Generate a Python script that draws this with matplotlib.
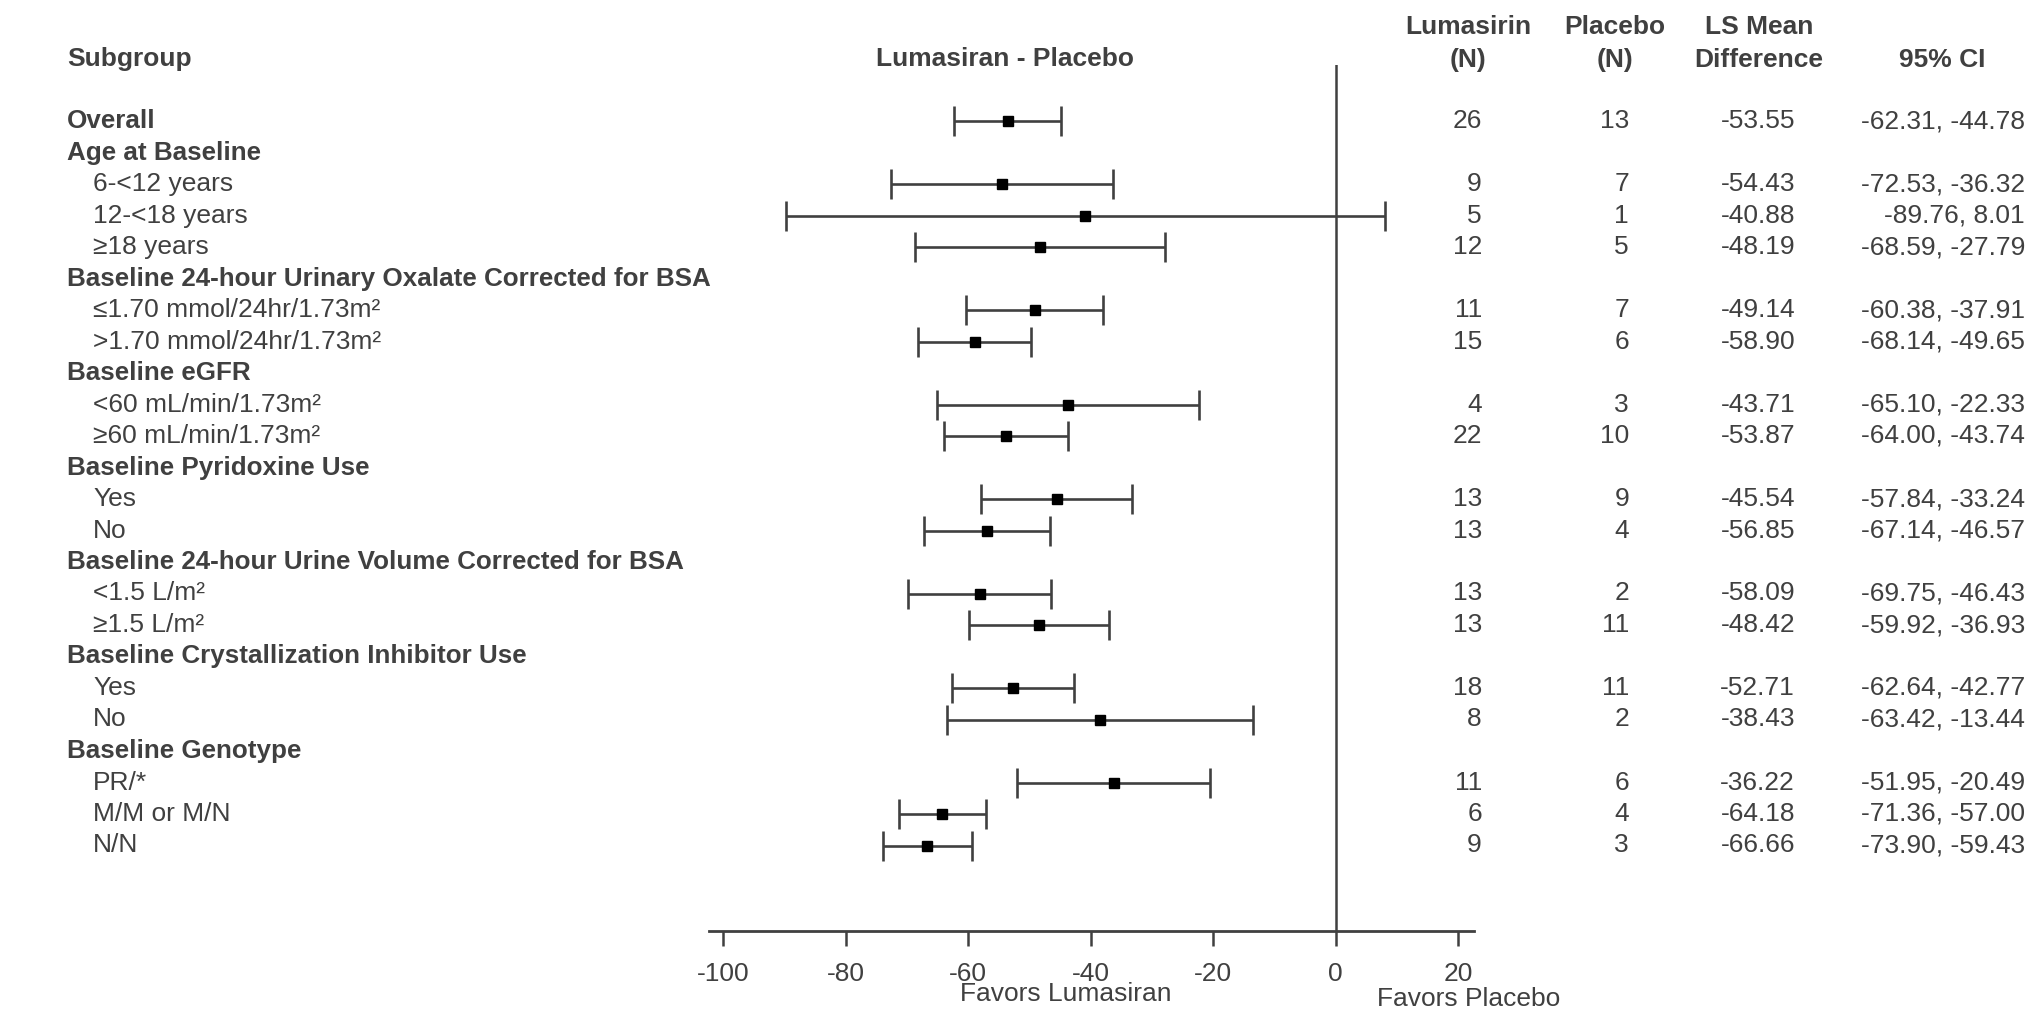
import matplotlib
matplotlib.use("Agg")
import matplotlib.pyplot as plt
import matplotlib.transforms as mtransforms

plt.rcParams['font.family'] = ['Liberation Sans', 'DejaVu Sans']

# ----------------- Data -----------------
labels = [
    "Overall", "Age at Baseline", "6-<12 years", "12-<18 years", "≥18 years",
    "Baseline 24-hour Urinary Oxalate Corrected for BSA",
    "≤1.70 mmol/24hr/1.73m²", ">1.70 mmol/24hr/1.73m²",
    "Baseline eGFR", "<60 mL/min/1.73m²", "≥60 mL/min/1.73m²",
    "Baseline Pyridoxine Use", "Yes", "No",
    "Baseline 24-hour Urine Volume Corrected for BSA", "<1.5 L/m²", "≥1.5 L/m²",
    "Baseline Crystallization Inhibitor Use", "Yes", "No",
    "Baseline Genotype", "PR/*", "M/M or M/N", "N/N",
]
is_header = [True, True, False, False, False, True, False, False, True, False, False,
             True, False, False, True, False, False, True, False, False, True, False, False, False]

# None for header rows without estimates
n_lumasiran = [26, None, 9, 5, 12, None, 11, 15, None, 4, 22, None, 13, 13, None, 13, 13, None, 18, 8, None, 11, 6, 9]
n_placebo = [13, None, 7, 1, 5, None, 7, 6, None, 3, 10, None, 9, 4, None, 2, 11, None, 11, 2, None, 6, 4, 3]
mean_diff = [-53.55, None, -54.43, -40.88, -48.19, None, -49.14, -58.90, None, -43.71, -53.87, None,
             -45.54, -56.85, None, -58.09, -48.42, None, -52.71, -38.43, None, -36.22, -64.18, -66.66]
ci_low = [-62.31, None, -72.53, -89.76, -68.59, None, -60.38, -68.14, None, -65.10, -64.00, None,
          -57.84, -67.14, None, -69.75, -59.92, None, -62.64, -63.42, None, -51.95, -71.36, -73.90]
ci_high = [-44.78, None, -36.32, 8.01, -27.79, None, -37.91, -49.65, None, -22.33, -43.74, None,
           -33.24, -46.57, None, -46.43, -36.93, None, -42.77, -13.44, None, -20.49, -57.00, -59.43]

xticks = [-100, -80, -60, -40, -20, 0, 20]

# ----------------- Layout -----------------
W, H = 2034, 1010
text_color = "#404040"
fs = 19

fig = plt.figure(figsize=(W / 100, H / 100), dpi=100)

# axes placed in pixel units
ax_left, ax_right = 709, 1474
ax_top, ax_bottom = 65, 931
ax = fig.add_axes([ax_left / W, 1 - ax_bottom / H, (ax_right - ax_left) / W, (ax_bottom - ax_top) / H])

row0, step = 121, 31.5
ax.set_xlim(-102.3, 22.6)
ax.set_ylim((ax_bottom - row0) / step, (ax_top - row0) / step)

for s in ["top", "right", "left"]:
    ax.spines[s].set_visible(False)
ax.spines["bottom"].set_color(text_color)
ax.spines["bottom"].set_linewidth(2)
ax.set_yticks([])
ax.set_xticks(xticks)
ax.set_xticklabels([str(t) for t in xticks])
ax.tick_params(axis="x", direction="out", length=11, width=1.8, colors=text_color,
               labelsize=fs, pad=11)

ax.axvline(0, color=text_color, lw=1.8)

for i in range(len(labels)):
    if mean_diff[i] is None:
        continue
    ax.errorbar(mean_diff[i], i,
                xerr=[[mean_diff[i] - ci_low[i]], [ci_high[i] - mean_diff[i]]],
                fmt="s", color="black", ms=6.5, ecolor=text_color, elinewidth=1.9,
                capsize=10.5, capthick=1.9)

# ----------------- Text columns -----------------
trans = mtransforms.blended_transform_factory(fig.transFigure, ax.transData)

col_lum = 1482 / W
col_pla = 1629 / W
col_ls = 1795 / W
col_ci = 2025 / W

for i, lab in enumerate(labels):
    if is_header[i]:
        ax.text(67 / W, i, lab, transform=trans, ha="left", va="center", fontsize=18.7,
                fontweight="bold", color=text_color, clip_on=False)
    else:
        ax.text(93 / W, i, lab, transform=trans, ha="left", va="center", fontsize=fs,
                color=text_color, clip_on=False)
    if mean_diff[i] is None:
        continue
    ax.text(col_lum, i, str(n_lumasiran[i]), transform=trans, ha="right", va="center",
            fontsize=fs, color=text_color, clip_on=False)
    ax.text(col_pla, i, str(n_placebo[i]), transform=trans, ha="right", va="center",
            fontsize=fs, color=text_color, clip_on=False)
    ax.text(col_ls, i, f"{mean_diff[i]:.2f}", transform=trans, ha="right", va="center",
            fontsize=fs, color=text_color, clip_on=False)
    ax.text(col_ci, i, f"{ci_low[i]:.2f}, {ci_high[i]:.2f}", transform=trans, ha="right",
            va="center", fontsize=fs, color=text_color, clip_on=False)


# ----------------- Headers -----------------
def ftext(x, y, s, ha="center", bold=True):
    fig.text(x / W, 1 - y / H, s, ha=ha, va="center", fontsize=fs,
             fontweight="bold" if bold else "normal", color=text_color)


ftext(67, 59, "Subgroup", ha="left")
ftext(1005, 59, "Lumasiran - Placebo")
ftext(1468, 27, "Lumasirin")
ftext(1468, 60, "(N)")
ftext(1615, 27, "Placebo")
ftext(1615, 60, "(N)")
ftext(1759, 27, "LS Mean")
ftext(1759, 60, "Difference")
ftext(1942, 60, "95% CI")

ftext(1066, 994, "Favors Lumasiran", bold=False)
ftext(1469, 999, "Favors Placebo", bold=False)

fig.savefig("out.png", dpi=100)
